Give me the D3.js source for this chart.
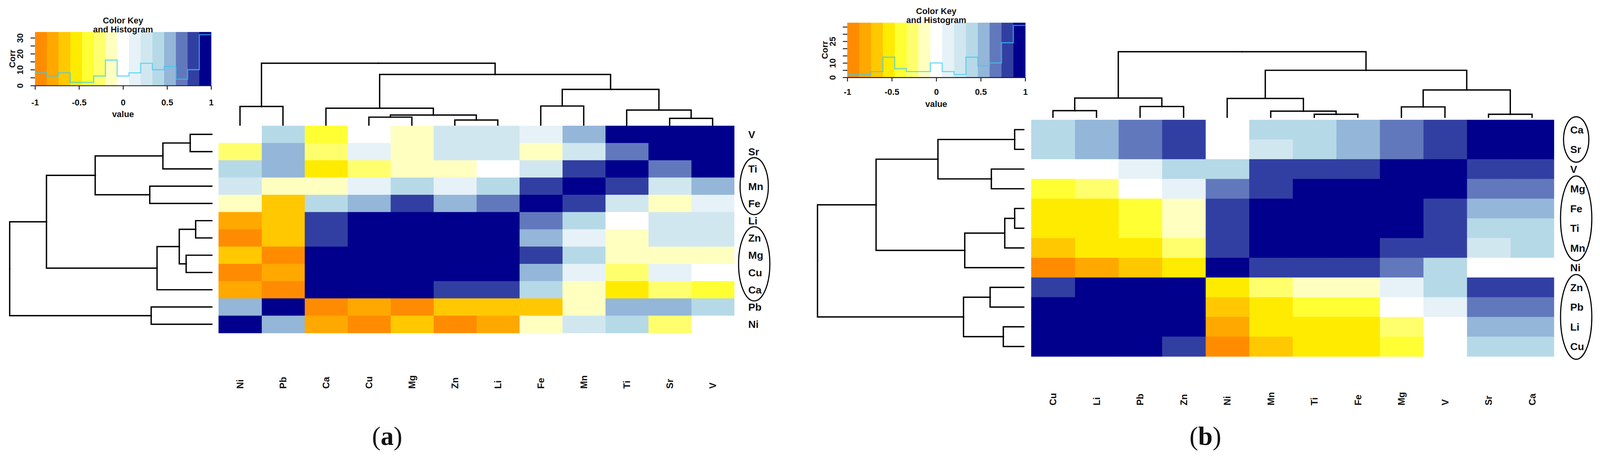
<!DOCTYPE html>
<html><head><meta charset="utf-8">
<script src="https://cdn.jsdelivr.net/npm/d3@7/dist/d3.min.js"></script>
<style>
html,body{margin:0;padding:0;background:#fff;overflow:hidden;}
#chart{display:block;width:100vw;height:100vh;}
text{font-family:"Liberation Sans",Arial,Helvetica,sans-serif;font-weight:bold;fill:#111;}
</style></head><body>
<svg id="chart" viewBox="0 0 4298 1217" preserveAspectRatio="xMidYMin meet" xmlns="http://www.w3.org/2000/svg"></svg>
<script>
// ---------------- data ----------------
const keyColors = ["#FF8C00","#FFA800","#FFC800","#FFEB00","#FFFF33","#FFFF6E","#FFFFC0","#FFFFFF",
                   "#E6F2F8","#D1E7F0","#B6D9E8","#94B6D8","#6278BC","#323FA2","#00008C"];
const keyTicks = [-1,-0.5,0,0.5,1];
const keyTickLabels = ["-1","-0.5","0","0.5","1"];

// panel (a): row order top -> bottom (columns are the reverse)
const rowsA = ["V","Sr","Ti","Mn","Fe","Li","Zn","Mg","Cu","Ca","Pb","Ni"];
const corrA = [
  [1, .93, .93, .53, .13, .27, .27, -.13, 0, -.4, .4, 0],
  [.93, 1, .67, .27, -.13, .27, .27, -.13, .13, -.27, .53, -.27],
  [.93, .67, 1, .8, .27, 0, -.13, -.13, -.27, -.53, .53, .4],
  [.53, .27, .8, 1, .8, .4, .13, .4, .13, -.13, -.13, .27],
  [.13, -.13, .27, .8, 1, .67, .53, .8, .53, .4, -.67, -.13],
  [.27, .27, 0, .4, .67, 1, .93, .93, .93, .8, -.67, -.8],
  [.27, .27, -.13, .13, .53, .93, 1, .93, .93, .8, -.67, -.93],
  [-.13, -.13, -.13, .4, .8, .93, .93, 1, .93, .93, -.93, -.67],
  [0, .13, -.27, .13, .53, .93, .93, .93, 1, .93, -.8, -.93],
  [-.4, -.27, -.53, -.13, .4, .8, .8, .93, .93, 1, -.93, -.8],
  [.4, .53, .53, -.13, -.67, -.67, -.67, -.93, -.8, -.93, 1, .53],
  [0, -.27, .4, .27, -.13, -.8, -.93, -.67, -.93, -.8, .53, 1]
];
const treeA = {h:1.00, c:[
  {h:0.818, c:[
    {h:0.577, c:[{h:0.242, c:[{h:0.107, c:["V","Sr"]},"Ti"]},{h:0.307, c:["Mn","Fe"]}]},
    {h:0.271, c:[{h:0.161, c:[{h:0.080, c:["Li","Zn"]},{h:0.127, c:["Mg","Cu"]}]},"Ca"]}
  ]},
  {h:0.300, c:["Pb","Ni"]}
]};
const groupsA = [["Ti","Fe"],["Zn","Ca"]];

// panel (b)
const rowsB = ["Ca","Sr","V","Mg","Fe","Ti","Mn","Ni","Zn","Pb","Li","Cu"];
const corrB = [
  [1,.93,.8,.67,.53,.4,.4,0,.8,.67,.53,.4],
  [.93,1,.8,.67,.53,.4,.27,0,.8,.67,.53,.4],
  [.8,.8,1,.93,.8,.8,.8,.4,.4,.13,0,0],
  [.67,.67,.93,1,.93,.93,.8,.67,.13,0,-.27,-.4],
  [.53,.53,.8,.93,1,.93,.93,.8,-.13,-.4,-.53,-.53],
  [.4,.4,.8,.93,.93,1,.93,.8,-.13,-.4,-.53,-.53],
  [.4,.27,.8,.8,.93,.93,1,.8,-.27,-.53,-.53,-.67],
  [0,0,.4,.67,.8,.8,.8,1,-.53,-.67,-.8,-.93],
  [.8,.8,.4,.13,-.13,-.13,-.27,-.53,1,.93,.93,.8],
  [.67,.67,.13,0,-.4,-.4,-.53,-.67,.93,1,.93,.93],
  [.53,.53,0,-.27,-.53,-.53,-.53,-.8,.93,.93,1,.93],
  [.4,.4,0,-.4,-.53,-.53,-.67,-.93,.8,.93,.93,1]
];
const treeB = {h:1.00, c:[
  {h:0.716, c:[
    {h:0.416, c:[{h:0.044, c:["Ca","Sr"]},{h:0.157, c:["V","Mg"]}]},
    {h:0.286, c:[{h:0.092, c:[{h:0.044, c:["Fe","Ti"]},"Mn"]},"Ni"]}
  ]},
  {h:0.292, c:[{h:0.163, c:["Zn","Pb"]},{h:0.099, c:["Li","Cu"]}]}
]};
const groupsB = [["Ca","Sr"],["Mg","Mn"],["Zn","Cu"]];

const panelLetters = ["a","b"];
const countLabelsA = [0,10,20,30];
const countLabelsB = [0,10,25];

// ---------------- drawing ----------------
const svg = d3.select("#chart");
svg.append("rect").attr("width",4298).attr("height",1217).attr("fill","#fff");
const color = d3.scaleQuantize().domain([-1,1]).range(keyColors);
const edges = d3.range(16).map(i => -1 + i*2/15);

function drawKey(k, matrix){
  const g = svg.append("g");
  const kx = d3.scaleLinear().domain([-1,1]).range([k.left,k.right]);
  g.selectAll("rect.band").data(keyColors).join("rect")
    .attr("x",(d,i)=>kx(edges[i])).attr("y",k.top)
    .attr("width",(d,i)=>kx(edges[i+1])-kx(edges[i])+0.7)
    .attr("height",k.bottom-k.top).attr("fill",d=>d);
  const bins = d3.bin().domain([-1,1]).thresholds(edges.slice(1,15))(matrix.flat());
  const counts = bins.map(b=>b.length);
  const maxC = d3.max(counts);
  const ky = d3.scaleLinear().domain([0,maxC/0.95]).range([k.bottom,k.top]);
  let dp = `M${kx(-1)},${ky(counts[0])}`;
  counts.forEach((c,i)=>{ dp += `V${ky(c)}H${kx(edges[i+1])}`; });
  g.append("path").attr("d",dp).attr("fill","none").attr("stroke","#33ccf2")
    .attr("stroke-width",3).attr("stroke-opacity",0.7);
  const xa = g.append("g").attr("transform",`translate(0,${k.bottom})`)
    .call(d3.axisBottom(kx).tickValues(keyTicks).tickFormat((d,i)=>keyTickLabels[i]).tickSize(11).tickSizeOuter(0).tickPadding(k.xlab));
  xa.selectAll("path,line").attr("stroke","#222").attr("stroke-width",2.5);
  xa.selectAll("text").style("font-size","23px").style("fill","#111");
  const yt = d3.range(0, maxC/0.95, 5);
  const ya = g.append("g").attr("transform",`translate(${k.left},0)`)
    .call(d3.axisLeft(ky).tickValues(yt).tickFormat(d => k.ylabels.includes(d) ? d : "").tickSize(12).tickSizeOuter(0));
  ya.select("path").remove();
  ya.selectAll("line").attr("stroke","#222").attr("stroke-width",2.5);
  ya.selectAll("text").attr("x",0).attr("dy",0).attr("text-anchor","middle")
    .attr("transform","translate(-32,0) rotate(-90)")
    .style("font-size","23px").style("fill","#111");
  const cx = (k.left+k.right)/2;
  g.append("text").attr("x",cx).attr("y",k.top-23).attr("text-anchor","middle").style("font-size","23px").text("Color Key");
  g.append("text").attr("x",cx).attr("y",k.top+1).attr("text-anchor","middle").style("font-size","23px").text("and Histogram");
  g.append("text").attr("x",cx).attr("y",k.bottom+k.vlab).attr("text-anchor","middle").style("font-size","23px").text("value");
  g.append("text").attr("transform",`translate(${k.left-53},${(k.top+k.bottom)/2}) rotate(-90)`)
    .attr("text-anchor","middle").style("font-size","23px").text("Corr");
}

function drawPanel(p){
  const g = svg.append("g");
  const y = d3.scaleBand().domain(p.rows).range([p.top,p.bottom]);
  const cols = p.rows.slice().reverse();
  const x = d3.scaleBand().domain(cols).range([p.left,p.right]);
  const cells = [];
  p.rows.forEach((r,i)=>p.rows.forEach((c,j)=>cells.push({r,c,v:p.corr[i][j]})));
  g.selectAll("rect.cell").data(cells).join("rect")
    .attr("x",d=>x(d.c)).attr("y",d=>y(d.r))
    .attr("width",x.bandwidth()+0.8).attr("height",y.bandwidth()+0.8)
    .attr("fill",d=>color(d.v));

  const root = d3.hierarchy(p.tree, d=>d.c);
  root.eachAfter(d=>{
    if(!d.children){ d.ry=y(d.data)+y.bandwidth()/2; d.cx=x(d.data)+x.bandwidth()/2; d.hh=0; }
    else { d.ry=d3.mean(d.children,c=>c.ry); d.cx=d3.mean(d.children,c=>c.cx); d.hh=d.data.h; }
  });
  const hx = d3.scaleLinear().domain([0,1]).range([p.rowLeafX,p.rowRootX]);
  const hy = d3.scaleLinear().domain([0,1]).range([p.colLeafY,p.colRootY]);
  const links = root.links();
  g.selectAll("path.rd").data(links).join("path")
    .attr("d",l=>`M${hx(l.source.hh)},${l.source.ry}V${l.target.ry}H${hx(l.target.hh)}`)
    .attr("fill","none").attr("stroke","#000").attr("stroke-width",3.6).attr("stroke-linecap","square");
  g.selectAll("path.cd").data(links).join("path")
    .attr("d",l=>`M${l.source.cx},${hy(l.source.hh)}H${l.target.cx}V${hy(l.target.hh)}`)
    .attr("fill","none").attr("stroke","#000").attr("stroke-width",3.6).attr("stroke-linecap","square");

  g.selectAll("text.rl").data(p.rows).join("text")
    .attr("x",p.labelX).attr("y",r=>y(r)+y.bandwidth()/2).attr("dy","0.36em")
    .style("font-size","28px").text(r=>r);
  g.selectAll("text.cl").data(cols).join("text")
    .attr("transform",c=>`translate(${x(c)+x.bandwidth()/2},${p.colLabelY}) rotate(-90)`)
    .attr("dy","0.36em").attr("text-anchor","start").style("font-size","25px").text(c=>c);

  const bw = y.bandwidth();
  p.groups.forEach(gr=>{
    const n = p.rows.indexOf(gr[1]) - p.rows.indexOf(gr[0]) + 1;
    const t = y(gr[0]) - 0.15*bw, b = y(gr[1]) + bw + 0.15*bw;
    g.append("ellipse").attr("cx",p.labelX+16).attr("cy",(t+b)/2)
      .attr("rx",Math.min(44, 26+4*n)).attr("ry",(b-t)/2)
      .attr("fill","none").attr("stroke","#000").attr("stroke-width",3);
  });

  const tt = g.append("text").attr("x",p.titleX).attr("y",1196).attr("text-anchor","middle")
    .style("font-family","'Liberation Serif','Times New Roman',serif").style("font-weight","normal")
    .style("font-size","70px");
  tt.append("tspan").text("(");
  tt.append("tspan").style("font-weight","bold").text(p.letter);
  tt.append("tspan").text(")");
}

drawKey({left:94,right:567,top:86,bottom:230,xlab:26,vlab:85,ylabels:countLabelsA}, corrA);
drawKey({left:2276,right:2754,top:61,bottom:208,xlab:20,vlab:80,ylabels:countLabelsB}, corrB);

drawPanel({rows:rowsA,corr:corrA,tree:treeA,groups:groupsA,
  left:587,right:1972,top:338,bottom:895,
  rowLeafX:569,rowRootX:26,colLeafY:336,colRootY:170,
  labelX:2010,colLabelY:1045,titleX:1040,letter:panelLetters[0]});
drawPanel({rows:rowsB,corr:corrB,tree:treeB,groups:groupsB,
  left:2770,right:4174,top:322,bottom:958,
  rowLeafX:2750,rowRootX:2196,colLeafY:315,colRootY:139,
  labelX:4218,colLabelY:1090,titleX:3238,letter:panelLetters[1]});
</script>
</body></html>
